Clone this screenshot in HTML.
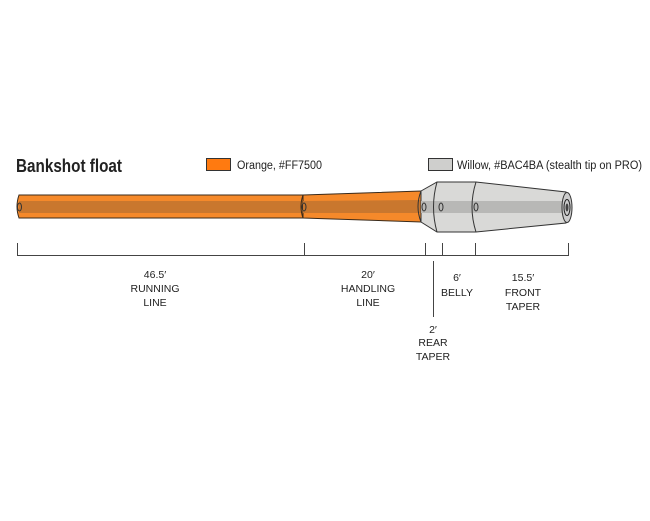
<!DOCTYPE html>
<html><head><style>
body{margin:0;background:#fff;width:650px;height:521px;overflow:hidden}
svg{display:block}
text{font-family:"Liberation Sans",sans-serif;fill:#222}
.l{font-size:10.5px;text-anchor:middle}
</style></head><body>
<svg width="650" height="521" viewBox="0 0 650 521">
<text x="16" y="172" style="font-size:18px;font-weight:bold" fill="#111" textLength="106" lengthAdjust="spacingAndGlyphs">Bankshot float</text>
<rect x="206.5" y="158.5" width="24" height="12" fill="#ff7a10" stroke="#333"/>
<text x="237" y="169" style="font-size:11.5px" textLength="85" lengthAdjust="spacingAndGlyphs">Orange, #FF7500</text>
<rect x="428.5" y="158.5" width="24" height="12" fill="#cfcfcd" stroke="#333"/>
<text x="457" y="169" style="font-size:11.5px" textLength="185" lengthAdjust="spacingAndGlyphs">Willow, #BAC4BA  (stealth tip on PRO)</text>

<path d="M19 195 L303 195 L303 218 L19 218 Q15 206.5 19 195Z" fill="#f5892a" stroke="#3a2a1a" stroke-width="1"/>
<rect x="19" y="201" width="284" height="12" fill="#c9772e"/>
<path d="M303 195 L421 191 L421 222 L303 218Z" fill="#f5892a" stroke="#3a2a1a"/>
<path d="M303 201 L421 200 L421 213 L303 213Z" fill="#c9772e"/>
<path d="M421 191 L437 182 L476 182 L566 192 L566 223 L476 232 L437 232 L421 222Z" fill="#d9d9d7" stroke="#333"/>
<rect x="421" y="201" width="145" height="12" fill="#b8b8b6"/>
<path d="M437 182 Q430 207 437 232" fill="none" stroke="#333"/>
<path d="M476 182 Q468 207 476 232" fill="none" stroke="#333"/>
<path d="M303 195 Q299 206.5 303 218" fill="none" stroke="#3a2a1a"/>
<path d="M421 191 Q415 206.5 421 222" fill="none" stroke="#333"/>
<ellipse cx="19.5" cy="207" rx="2" ry="4" fill="none" stroke="#333"/>
<ellipse cx="304" cy="207" rx="2" ry="4" fill="none" stroke="#333"/>
<ellipse cx="424" cy="207" rx="2" ry="4" fill="none" stroke="#333"/>
<ellipse cx="441" cy="207" rx="2" ry="4" fill="none" stroke="#333"/>
<ellipse cx="476" cy="207" rx="2" ry="4" fill="none" stroke="#333"/>
<ellipse cx="567" cy="207.5" rx="5" ry="15" fill="#ccc" stroke="#333"/>
<ellipse cx="567" cy="207.5" rx="3" ry="8" fill="none" stroke="#222"/>
<ellipse cx="567" cy="207.5" rx="1.5" ry="4" fill="#444"/>

<g stroke="#444" stroke-width="1">
<line x1="17" y1="255.5" x2="569" y2="255.5"/>
<line x1="17.5" y1="243" x2="17.5" y2="256"/>
<line x1="304.5" y1="243" x2="304.5" y2="256"/>
<line x1="425.5" y1="243" x2="425.5" y2="256"/>
<line x1="442.5" y1="243" x2="442.5" y2="256"/>
<line x1="475.5" y1="243" x2="475.5" y2="256"/>
<line x1="568.5" y1="243" x2="568.5" y2="256"/>
<line x1="433.5" y1="261" x2="433.5" y2="317"/>
</g>
<text class="l" x="155" y="278">46.5′</text>
<text class="l" x="155" y="292">RUNNING</text>
<text class="l" x="155" y="306">LINE</text>
<text class="l" x="368" y="278">20′</text>
<text class="l" x="368" y="292">HANDLING</text>
<text class="l" x="368" y="306">LINE</text>
<text class="l" x="457" y="281">6′</text>
<text class="l" x="457" y="296">BELLY</text>
<text class="l" x="523" y="281">15.5′</text>
<text class="l" x="523" y="296">FRONT</text>
<text class="l" x="523" y="310">TAPER</text>
<text class="l" x="433" y="333">2′</text>
<text class="l" x="433" y="346">REAR</text>
<text class="l" x="433" y="360">TAPER</text>
</svg>
</body></html>
